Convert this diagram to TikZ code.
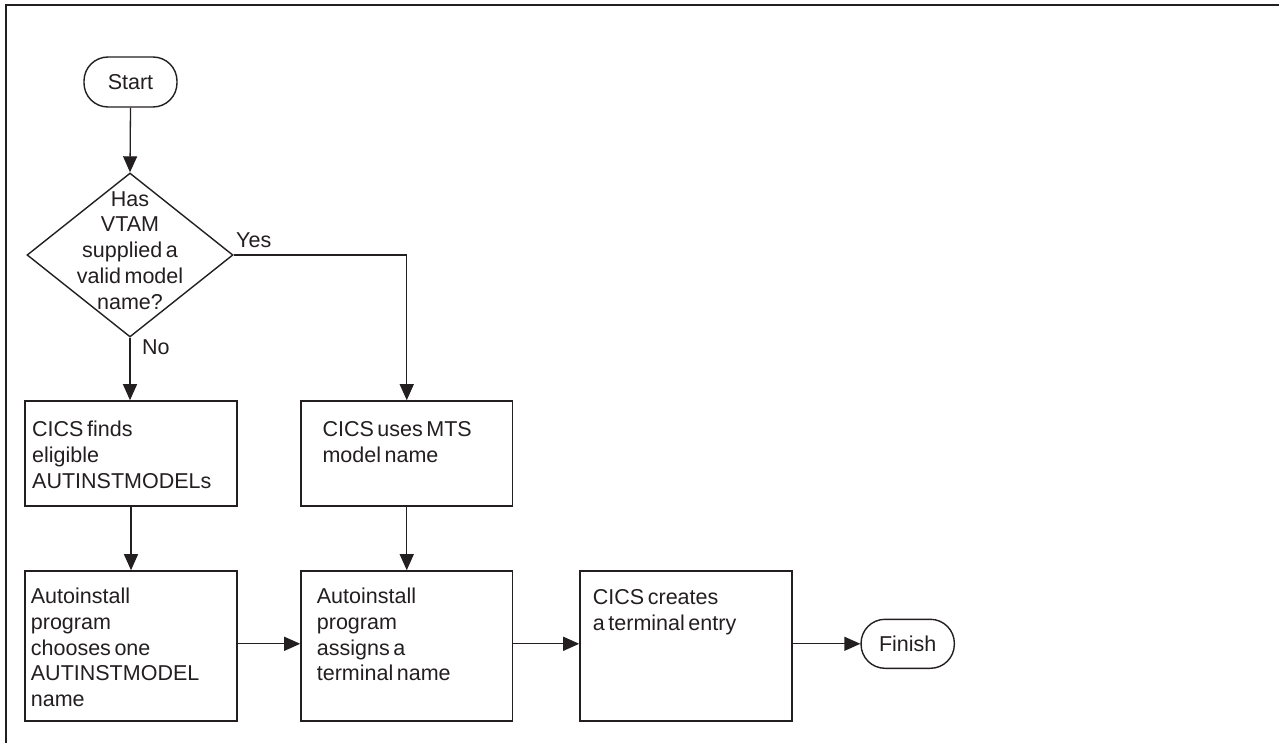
\documentclass[tikz,border=0pt]{standalone}
\usepackage{fontspec}
\setmainfont{Liberation Sans}[WordSpace=0.6]
\usetikzlibrary{arrows.meta,shapes.geometric}
\definecolor{ink}{HTML}{231F20}
\newcommand{\fl}{\rule{0pt}{16pt}}
\begin{document}
\begin{tikzpicture}[x=1pt,y=-1pt,
  every node/.style={text=ink, font=\fontsize{21.5}{25.7}\selectfont},
  box/.style={draw=ink, line width=1.6pt, inner sep=0pt},
  term/.style={draw=ink, line width=1.4pt, rounded corners=24pt, inner sep=0pt},
  decision/.style={draw=ink, line width=1.4pt, diamond, inner sep=0pt},
  txt/.style={inner sep=0pt, anchor=north west, align=left},
  lbl/.style={inner sep=0pt, anchor=base west},
  conn/.style={draw=ink, line width=1.3pt, -{Triangle[length=16pt,width=14pt]}}]
\useasboundingbox (0,0) rectangle (1279,743);
\fill[white] (0,0) rectangle (1279,743);
% frame
\draw[ink, line width=1.5pt] (6,743) -- (6,5) -- (1279,5);
% nodes
\node[term, minimum width=93pt, minimum height=50pt] (start) at (130.5,82) {Start};
\node[decision, minimum width=206pt, minimum height=164pt] (dec) at (130,255) {};
\node[inner sep=0pt, anchor=north, align=center] (dect) at (130,190)
  {\fl Has\\VTAM\\supplied a\\valid model\\name?};
\node[box, minimum width=212pt, minimum height=105pt] (b1) at (131,453.5) {};
\node[box, minimum width=211.5pt, minimum height=105pt] (b2) at (406.75,453.5) {};
\node[box, minimum width=212pt, minimum height=150pt] (b3) at (131,646) {};
\node[box, minimum width=211.5pt, minimum height=150pt] (b4) at (406.75,646) {};
\node[box, minimum width=211.7pt, minimum height=150pt] (b5) at (685.85,646) {};
\node[term, minimum width=93.3pt, minimum height=49pt] (fin) at (907.7,643.8) {Finish};
% box texts (first baseline = y + 16)
\node[txt] (t1) at (32,420.7) {\fl CICS finds\\eligible\\AUTINSTMODELs};
\node[txt] (t2) at (322.3,420.7) {\fl CICS uses MTS\\model name};
\node[txt] (t3) at (30.7,587.4) {\fl Autoinstall\\program\\chooses one\\AUTINSTMODEL\\name};
\node[txt] (t4) at (316.7,587.4) {\fl Autoinstall\\program\\assigns a\\terminal name};
\node[txt] (t5) at (592.7,588.3) {\fl CICS creates\\a terminal entry};
% labels
\node[lbl] (yes) at (236,247.3) {Yes};
\node[lbl] (no) at (142,354.3) {No};
% connectors
\draw[conn] (start.south) -- (dec.north);
\draw[conn] (dec.south) -- (dec.south |- b1.north);
\draw[conn] (dec.east) -| (b2.north);
\draw[conn] (b1.south) -- (b3.north);
\draw[conn] (b2.south) -- (b4.north);
\draw[conn] (b3.east |- fin) -- (b4.west |- fin);
\draw[conn] (b4.east |- fin) -- (b5.west |- fin);
\draw[conn] (b5.east |- fin) -- (fin.west);
\end{tikzpicture}
\end{document}
